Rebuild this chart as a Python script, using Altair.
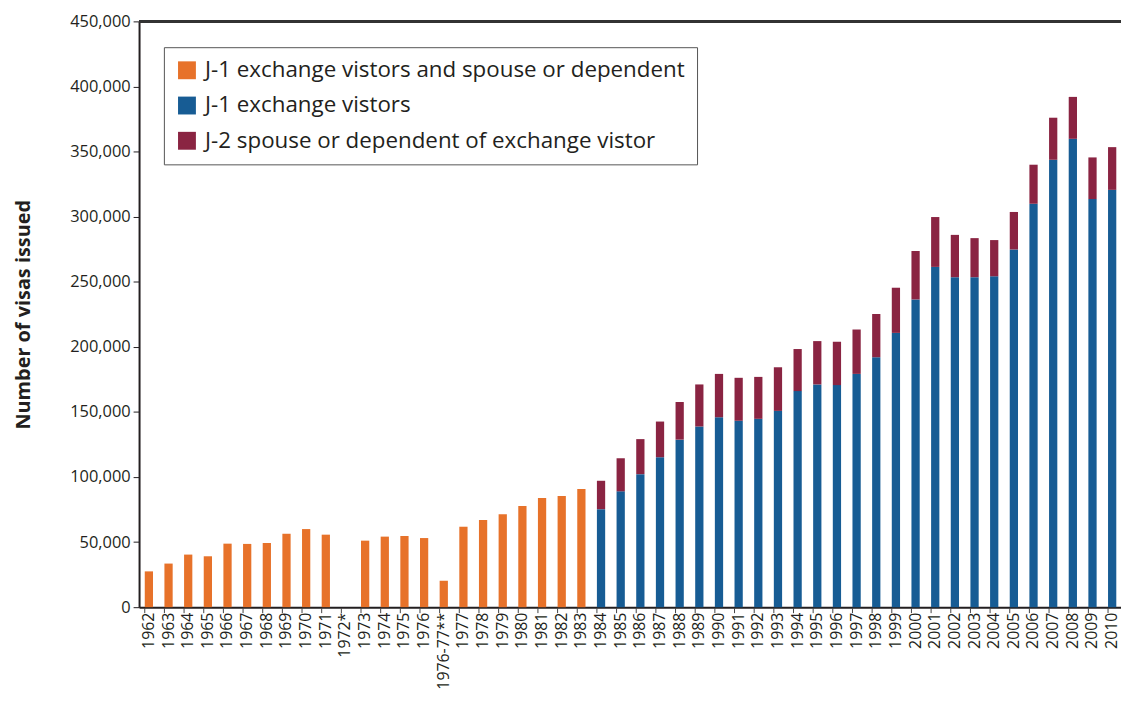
import altair as alt
import pandas as pd

categories = ["1962", "1963", "1964", "1965", "1966", "1967", "1968", "1969", "1970", "1971",
              "1972*", "1973", "1974", "1975", "1976", "1976-77**",
              "1977", "1978", "1979", "1980", "1981", "1982", "1983",
              "1984", "1985", "1986", "1987", "1988", "1989", "1990", "1991", "1992", "1993",
              "1994", "1995", "1996", "1997", "1998", "1999", "2000", "2001", "2002", "2003",
              "2004", "2005", "2006", "2007", "2008", "2009", "2010"]

# J-1 exchange visitors and spouse or dependent (combined, 1962-1983)
combined = [27500, 33500, 40400, 39100, 48800, 48600, 49300, 56400, 60000, 55700,
            None, 51100, 54200, 54700, 53100, 20300,
            61800, 66900, 71400, 77800, 83900, 85400, 90800]

# J-1 exchange visitors (1984-2010)
j1 = [75300, 89000, 102200, 115200, 128700, 138800, 145900, 143200, 144700, 150800,
      166000, 171100, 170600, 179200, 192000, 210700, 236400, 261400, 253500, 253500,
      254200, 274800, 309900, 343700, 359800, 313500, 320600]

# J-2 spouse or dependent (1984-2010)
j2 = [21800, 25400, 26900, 27400, 28900, 32300, 33300, 33000, 32200, 33500,
      32300, 33300, 33300, 34100, 33200, 34700, 37200, 38300, 32500, 30000,
      27800, 28800, 30000, 32300, 32200, 32000, 32800]

y_ticks = list(range(0, 450001, 50000))

series_names = ["J-1 exchange vistors and spouse or dependent",
                "J-1 exchange vistors",
                "J-2 spouse or dependent of exchange vistor"]
series_colors = ["#E7722A", "#175C94", "#8A2442"]

rows = []
for cat, v in zip(categories[:len(combined)], combined):
    if v is not None:
        rows.append({"cat": cat, "series": series_names[0], "value": v, "order": 0})
for cat, a, b in zip(categories[len(combined):], j1, j2):
    rows.append({"cat": cat, "series": series_names[1], "value": a, "order": 1})
    rows.append({"cat": cat, "series": series_names[2], "value": b, "order": 2})
df = pd.DataFrame(rows)
cats_df = pd.DataFrame({"cat": categories})

FONT = "Open Sans"
TXT = "#231f20"

xscale = alt.Scale(domain=categories, paddingInner=0.58, paddingOuter=0.29)
yscale = alt.Scale(domain=[0, 450000], nice=False)
y_axis = alt.Axis(title="Number of visas issued", values=y_ticks, format=",",
                  labelExpr="format(datum.value, ',')")

bars = alt.Chart(df).mark_bar().encode(
    x=alt.X("cat:N", scale=xscale, sort=categories, axis=alt.Axis(title=None)),
    y=alt.Y("value:Q", stack="zero", scale=yscale, axis=y_axis),
    color=alt.Color("series:N",
                    scale=alt.Scale(domain=series_names, range=series_colors),
                    legend=alt.Legend(title=None, orient="none", legendX=25, legendY=26,
                                      strokeColor="#555", fillColor="white", padding=12,
                                      symbolType="square", symbolSize=324, symbolStrokeWidth=0,
                                      labelFontSize=22.5, labelFont=FONT, labelColor=TXT,
                                      rowPadding=12.5, labelOffset=7, labelLimit=700)),
    order=alt.Order("order:Q"),
)

xticks = alt.Chart(cats_df).mark_rule(color="#444", strokeWidth=1).encode(
    x=alt.X("cat:N", scale=xscale, sort=categories, bandPosition=0, axis=alt.Axis(title=None)),
    y=alt.value(591),
    y2=alt.value(596),
)

top_line = alt.Chart(cats_df).mark_rule(color="#333", strokeWidth=2).encode(
    y=alt.Y(datum=450000, type="quantitative", scale=yscale, axis=y_axis),
)

chart = alt.layer(bars, xticks, top_line).properties(
    width=990, height=590,
    autosize=alt.AutoSizeParams(type="none"),
    padding={"left": 132, "top": 11, "right": -1, "bottom": 90},
).configure_view(stroke=None).configure(font=FONT, numberFormat=",").configure_axisX(
    labelAngle=-90, labelFontSize=16, labelColor=TXT, labelFont=FONT, ticks=False,
    domainColor=TXT, domainWidth=2, labelPadding=5, labelBaseline="middle", labelAlign="right",
    grid=False,
).configure_axisY(
    labelFontSize=16.5, labelColor=TXT, labelFont=FONT, tickSize=6, tickColor=TXT, tickWidth=1,
    domainColor=TXT, domainWidth=2, labelPadding=3, titleFont=FONT, titleFontSize=20,
    titleFontWeight="bold", titleColor=TXT, titlePadding=36, grid=False,
)

chart.save("out.html", embed_options={"renderer": "svg", "actions": False})
